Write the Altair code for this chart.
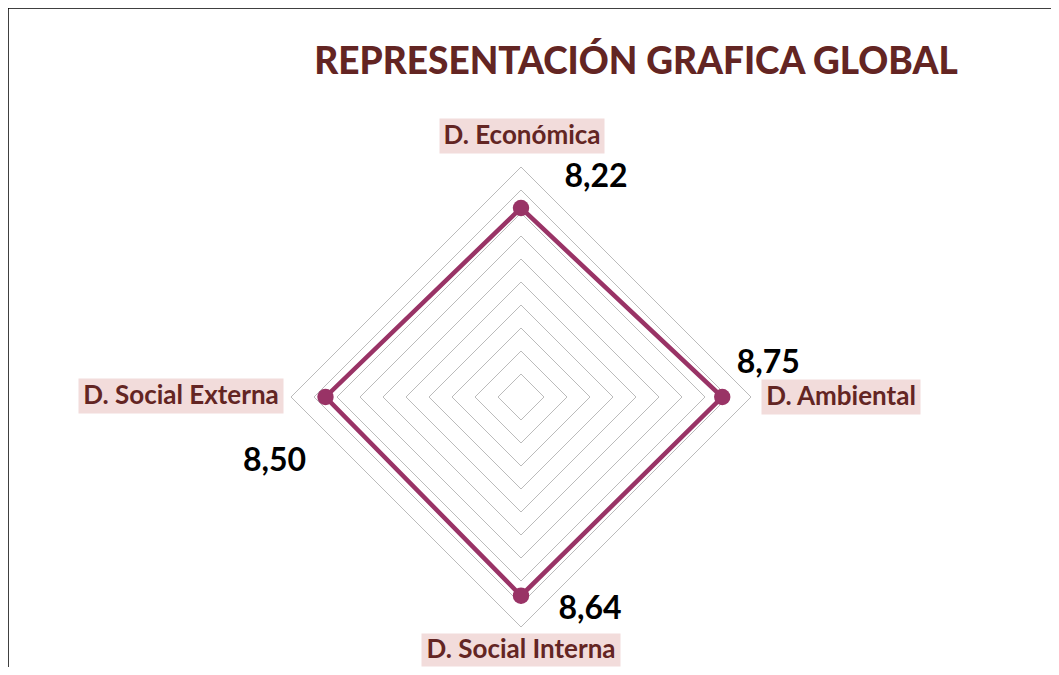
import altair as alt
import pandas as pd
import numpy as np

# ---------------- data ----------------
categories = ["D. Económica", "D. Ambiental", "D. Social Interna", "D. Social Externa"]
values = [8.22, 8.75, 8.64, 8.50]
value_labels = ["8,22", "8,75", "8,64", "8,50"]
grid_levels = list(range(1, 11))
title_text = "REPRESENTACIÓN GRAFICA GLOBAL"

# ---------------- geometry / style ----------------
W, H = 1043, 659          # plot area (page offset 8px)
CX, CY = 513, 389         # radar centre inside plot area, px
UNIT = 23                 # px per unit of value
x_dom = [-CX / UNIT, (W - CX) / UNIT]
y_dom = [-(H - CY) / UNIT, CY / UNIT]

FONT = "Lato"
DARK_RED = "#632523"
PINK = "#f2dcdb"
LINE = "#993366"
GRID = "#b3b3b3"

n = len(categories)
angles = [2 * np.pi * i / n for i in range(n)]  # clockwise from top

xs = alt.X("x:Q", scale=alt.Scale(domain=x_dom, nice=False, zero=False), axis=None)
ys = alt.Y("y:Q", scale=alt.Scale(domain=y_dom, nice=False, zero=False), axis=None)

# grid polygons
grid_rows = []
for lvl in grid_levels:
    for k in range(n + 1):
        a = angles[k % n]
        grid_rows.append({"level": lvl, "order": k,
                          "x": lvl * np.sin(a), "y": lvl * np.cos(a)})
grid_df = pd.DataFrame(grid_rows)

# data polygon
data_rows = []
for k in range(n + 1):
    i = k % n
    a = angles[i]
    data_rows.append({"cat": categories[i], "order": k, "value": values[i],
                      "label": value_labels[i],
                      "x": values[i] * np.sin(a), "y": values[i] * np.cos(a)})
data_df = pd.DataFrame(data_rows)
pts_df = data_df.iloc[:n]

# axis-end positions for category labels
rmax = max(grid_levels)
end_df = pd.DataFrame({"cat": categories,
                       "x": [rmax * np.sin(a) for a in angles],
                       "y": [rmax * np.cos(a) for a in angles]})

base_grid = alt.Chart(grid_df).mark_line(color=GRID, strokeWidth=0.9).encode(
    x=xs, y=ys, detail="level:N", order="order:Q")

data_line = alt.Chart(data_df).mark_line(color=LINE, strokeWidth=4.5).encode(
    x=xs, y=ys, order="order:Q")
data_pts = alt.Chart(pts_df).mark_point(filled=True, color=LINE, opacity=1, size=270).encode(
    x=xs, y=ys)

layers = [base_grid, data_line, data_pts]

# category labels with pink boxes (offsets from outer axis end)
cat_style = {
    "D. Económica": dict(dx=1, dy=-31, w=165, h=35),
    "D. Ambiental": dict(dx=90, dy=0, w=159, h=35),
    "D. Social Interna": dict(dx=0, dy=23, w=199, h=33),
    "D. Social Externa": dict(dx=-110, dy=-1, w=205, h=35),
}
for c in categories:
    st = cat_style[c]
    sub = end_df[end_df["cat"] == c]
    layers.append(alt.Chart(sub).mark_rect(color=PINK, width=st["w"], height=st["h"],
                                           xOffset=st["dx"], yOffset=st["dy"]).encode(x=xs, y=ys))
    layers.append(alt.Chart(sub).mark_text(font=FONT, fontSize=26, fontWeight="bold",
                                           color=DARK_RED, align="center", baseline="middle",
                                           dx=st["dx"], dy=st["dy"]).encode(x=xs, y=ys, text="cat:N"))

# value labels (offsets from data point)
val_style = {
    "D. Económica": dict(dx=75, dy=-31),
    "D. Ambiental": dict(dx=46, dy=-34),
    "D. Social Interna": dict(dx=69, dy=13),
    "D. Social Externa": dict(dx=-51, dy=64),
}
for c in categories:
    st = val_style[c]
    sub = pts_df[pts_df["cat"] == c]
    layers.append(alt.Chart(sub).mark_text(font=FONT, fontSize=32, fontWeight="bold",
                                           color="black", align="center", baseline="middle",
                                           dx=st["dx"], dy=st["dy"]).encode(x=xs, y=ys, text="label:N"))

# title
title_df = pd.DataFrame({"t": [title_text]})
layers.append(alt.Chart(title_df).mark_text(font=FONT, fontSize=37, fontWeight=900,
                                            color=DARK_RED, align="center", baseline="middle").encode(
    x=alt.value(628), y=alt.value(55), text="t:N"))

# frame (top and left edges)
frame_df = pd.DataFrame({"d": [0]})
layers.append(alt.Chart(frame_df).mark_rule(color="black", strokeWidth=1.5).encode(
    x=alt.value(0), x2=alt.value(W), y=alt.value(0)))
layers.append(alt.Chart(frame_df).mark_rule(color="black", strokeWidth=1.5).encode(
    x=alt.value(0), y=alt.value(0), y2=alt.value(H)))

chart = alt.layer(*layers).properties(
    width=W, height=H, padding=0,
    autosize=alt.AutoSizeParams(type="none"),
    background="white",
).configure_view(stroke=None)

chart.save("out.html", embed_options={"renderer": "svg", "actions": False})
